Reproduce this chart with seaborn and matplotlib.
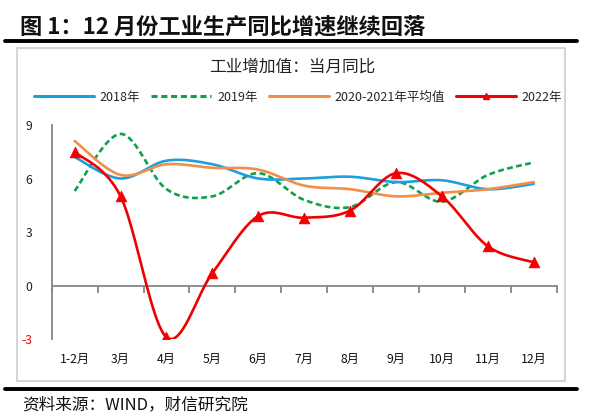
import numpy as np
import pandas as pd
import matplotlib
matplotlib.use("Agg")
import matplotlib.pyplot as plt
import seaborn as sns
from matplotlib.lines import Line2D
from matplotlib.patches import Rectangle

# ---------------- data ----------------
months = ["1-2月", "3月", "4月", "5月", "6月", "7月", "8月", "9月", "10月", "11月", "12月"]
y2018 = [7.2, 6.0, 7.0, 6.8, 6.0, 6.0, 6.1, 5.8, 5.9, 5.4, 5.7]
y2019 = [5.3, 8.5, 5.4, 5.0, 6.3, 4.8, 4.4, 5.8, 4.7, 6.2, 6.9]
y2021avg = [8.1, 6.2, 6.8, 6.6, 6.5, 5.6, 5.4, 5.0, 5.2, 5.4, 5.8]
y2022 = [7.5, 5.0, -2.9, 0.7, 3.9, 3.8, 4.2, 6.3, 5.0, 2.2, 1.3]
series_names = ["2018年", "2019年", "2020-2021年平均值", "2022年"]
yticks = [-3, 0, 3, 6, 9]

title = "图 1：12 月份工业生产同比增速继续回落"
subtitle = "工业增加值：当月同比"
source = "资料来源：WIND，财信研究院"

# ---------------- style ----------------
sns.set_theme(style="white")
plt.rcParams["font.family"] = ["Noto Sans CJK SC", "DejaVu Sans"]
plt.rcParams["axes.unicode_minus"] = False

C_BLUE = "#1C9FDC"
C_GREEN = "#10A04E"
C_ORANGE = "#F28E48"
C_RED = "#F00000"
C_AXIS = "#868686"


def smooth(vals, n=40):
    """Excel-like smoothed line (Bezier through the points)."""
    x = np.arange(len(vals), dtype=float)
    P = np.column_stack([x, np.asarray(vals, dtype=float)])
    out = []
    t = np.linspace(0, 1, n)[:, None]
    for i in range(len(P) - 1):
        p0 = P[i - 1] if i > 0 else P[i]
        p1, p2 = P[i], P[i + 1]
        p3 = P[i + 2] if i + 2 < len(P) else P[i + 1]
        c1 = p1 + (p2 - p0) / 6.0
        c2 = p2 - (p3 - p1) / 6.0
        seg = ((1 - t) ** 3) * p1 + 3 * ((1 - t) ** 2) * t * c1 + 3 * (1 - t) * t ** 2 * c2 + t ** 3 * p2
        out.append(seg if i == 0 else seg[1:])
    arr = np.vstack(out)
    return arr[:, 0], arr[:, 1]


W, H = 592, 419
fig = plt.figure(figsize=(W / 100, H / 100), dpi=100)
ax = fig.add_axes([51.7 / W, 1 - 339 / H, 505 / W, 214 / H])

styles = [
    (y2018, C_BLUE, "-", 2),
    (y2019, C_GREEN, (0, (2.2, 1.3)), 1),
    (y2021avg, C_ORANGE, "-", 3),
    (y2022, C_RED, "-", 5),
]
for vals, col, ls, z in styles:
    xs, ys = smooth(vals)
    sns.lineplot(x=xs, y=ys, sort=False, estimator=None, color=col,
                 linewidth=1.9, linestyle=ls, ax=ax, zorder=z)

sns.scatterplot(x=np.arange(len(months)), y=y2022, marker="^", s=60,
                color=C_RED, edgecolor=C_RED, linewidth=0.5, ax=ax, zorder=6)

# axes
ax.set_xlim(-0.5, len(months) - 0.5)
ax.set_ylim(yticks[0], yticks[-1])
ax.set_yticks(yticks)
ax.set_yticklabels([str(v) for v in yticks], fontsize=8.8)
for lab, v in zip(ax.get_yticklabels(), yticks):
    lab.set_color(C_RED if v < 0 else "#222222")
ax.tick_params(axis="y", direction="out", length=5, width=1.3, color=C_AXIS, pad=9)

ax.set_xticks(np.arange(len(months)))
ax.set_xticklabels(months, fontsize=8.8, color="#111111")
ax.tick_params(axis="x", length=0, pad=10)

for s in ["top", "right", "bottom"]:
    ax.spines[s].set_visible(False)
ax.spines["left"].set_color(C_AXIS)
ax.spines["left"].set_linewidth(1.3)
ax.set_xlabel("")
ax.set_ylabel("")
ax.grid(False)
ax.patch.set_alpha(0)

# zero-line category axis with boundary ticks
loc0 = (0 - yticks[0]) / (yticks[-1] - yticks[0])
sec = ax.secondary_xaxis(loc0)
sec.set_xticks(np.arange(-0.5, len(months), 1.0))
sec.set_xticklabels([])
sec.tick_params(axis="x", direction="out", length=5, width=1.3, color=C_AXIS)
for s in sec.spines.values():
    s.set_color(C_AXIS)
    s.set_linewidth(1.3)

# legend
handles = [
    Line2D([], [], color=C_BLUE, lw=2.2),
    Line2D([], [], color=C_GREEN, lw=2.2, linestyle=(0, (2.0, 1.2))),
    Line2D([], [], color=C_ORANGE, lw=2.2),
    Line2D([], [], color=C_RED, lw=2.2, marker="^", markersize=4.5),
]
fig.legend(handles, series_names, loc="center", ncol=4, frameon=False,
           bbox_to_anchor=(298 / W, 1 - 97 / H), fontsize=9,
           handlelength=4.8, handletextpad=0.45, columnspacing=0.9,
           numpoints=1)

# texts
fig.text(292 / W, 1 - 67 / H, subtitle, ha="center", va="center", fontsize=12, color="#222222")
fig.text(20 / W, 1 - 27 / H, title, ha="left", va="center", fontsize=16,
         fontweight="bold", color="#111111")
fig.text(22 / W, 1 - 405 / H, source, ha="left", va="center", fontsize=12, color="#111111")

# decorations: chart box and thick rules
fig.patches.append(Rectangle((17 / W, 1 - 381 / H), (565 - 17) / W, (381 - 48) / H,
                             transform=fig.transFigure, fill=False,
                             edgecolor="#D6D6D6", linewidth=1.5, zorder=0))
fig.add_artist(Line2D([5 / W, 577 / W], [1 - 40.7 / H, 1 - 40.7 / H],
                      transform=fig.transFigure, color="black", linewidth=2.8))
fig.add_artist(Line2D([5 / W, 577 / W], [1 - 389 / H, 1 - 389 / H],
                      transform=fig.transFigure, color="black", linewidth=2.8))

fig.savefig("out.png", dpi=100)
